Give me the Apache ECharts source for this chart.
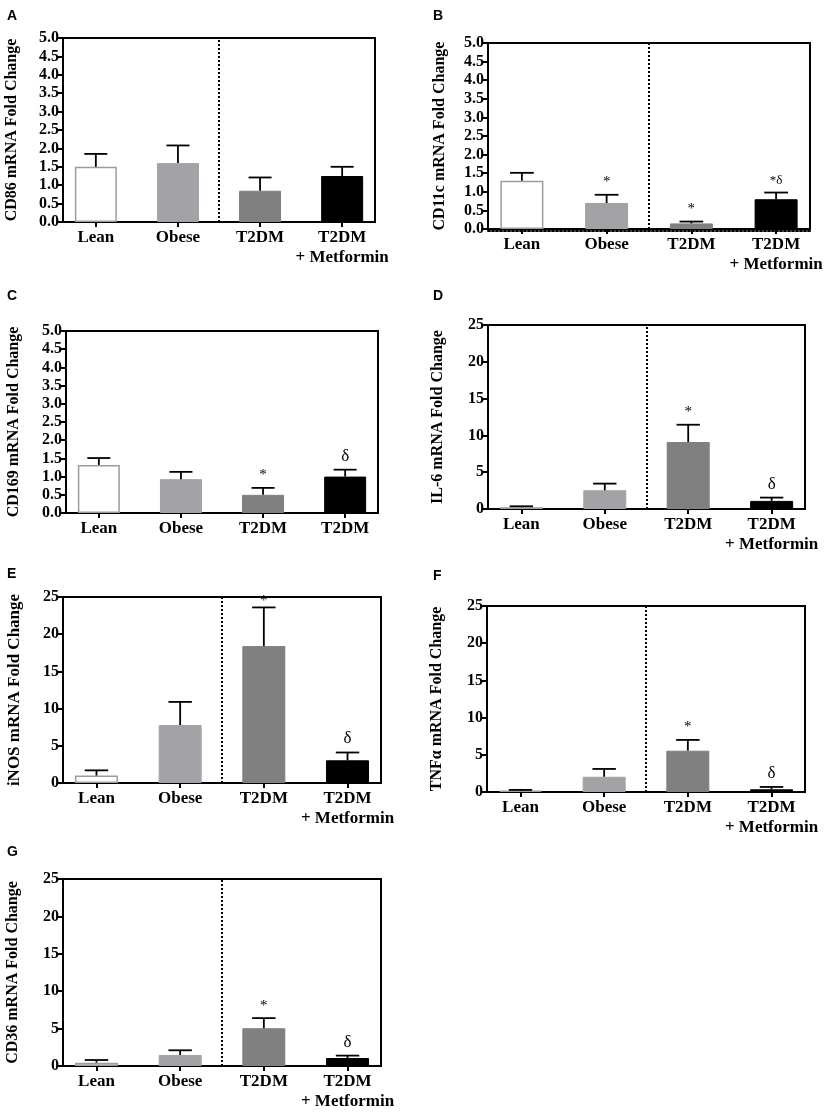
<!DOCTYPE html>
<html lang="en">
<head>
    <meta charset="UTF-8">
    <title>mRNA Fold Change</title>
    <script src="https://cdn.jsdelivr.net/npm/echarts@6.0.0/dist/echarts.min.js"></script>
    <style>
        html, body { margin: 0; padding: 0; background: #fff; }
        #chart { width: 835px; height: 1117px; }
    </style>
</head>
<body>
    <div id="chart"></div>
    <script>
        // groups on the x axis
        const groups = ['Lean', 'Obese', 'T2DM', 'T2DM\n+ Metformin'];
        const groupsC = ['Lean', 'Obese', 'T2DM', 'T2DM'];

        // mean fold change, upper error (SEM), significance marks
        const cd86Mean = [1.50, 1.60, 0.85, 1.25];
        const cd86Err = [0.35, 0.48, 0.36, 0.25];
        const cd86Mark = ['', '', '', ''];

        const cd11cMean = [1.30, 0.70, 0.15, 0.80];
        const cd11cErr = [0.21, 0.22, 0.05, 0.18];
        const cd11cMark = ['', '*', '*', '*δ'];

        const cd169Mean = [1.32, 0.93, 0.50, 1.00];
        const cd169Err = [0.19, 0.20, 0.19, 0.19];
        const cd169Mark = ['', '', '*', 'δ'];

        const il6Mean = [0.25, 2.55, 9.10, 1.10];
        const il6Err = [0.12, 0.90, 2.35, 0.45];
        const il6Mark = ['', '', '*', 'δ'];

        const inosMean = [1.00, 7.80, 18.40, 3.05];
        const inosErr = [0.70, 3.10, 5.20, 1.05];
        const inosMark = ['', '', '*', 'δ'];

        const tnfMean = [0.18, 2.05, 5.55, 0.36];
        const tnfErr = [0.10, 1.05, 1.45, 0.32];
        const tnfMark = ['', '', '*', 'δ'];

        const cd36Mean = [0.45, 1.48, 5.05, 1.07];
        const cd36Err = [0.35, 0.62, 1.35, 0.32];
        const cd36Mark = ['', '', '*', 'δ'];

        const barColors = ['#ffffff', '#a3a3a7', '#808080', '#000000'];
        const barBorders = ['#9c9c9c', '#a3a3a7', '#808080', '#000000'];
        const serif = '"Liberation Serif", "Times New Roman", serif';

        // panel layout: plot rectangle in px
        const panels = [
            { letter: 'A', lx: 7, ly: 9, rect: [63, 38, 312, 184], name: 'CD86 mRNA Fold Change', nameSize: 16, nameGap: 43,
              mean: cd86Mean, err: cd86Err, mark: cd86Mark, max: 5, step: 0.5, cats: groups, divider: true },
            { letter: 'B', lx: 433, ly: 9, rect: [488, 43, 322, 186], name: 'CD11c mRNA Fold Change', nameSize: 16, nameGap: 40,
              mean: cd11cMean, err: cd11cErr, mark: cd11cMark, max: 5, step: 0.5, cats: groups, divider: true, dottedBase: true },
            { letter: 'C', lx: 7, ly: 289, rect: [66, 331, 312, 182], name: 'CD169 mRNA Fold Change', nameSize: 16, nameGap: 44,
              mean: cd169Mean, err: cd169Err, mark: cd169Mark, max: 5, step: 0.5, cats: groupsC, divider: false },
            { letter: 'D', lx: 433, ly: 289, rect: [488, 325, 317, 184], name: 'IL-6 mRNA Fold Change', nameSize: 16, nameGap: 42,
              mean: il6Mean, err: il6Err, mark: il6Mark, max: 25, step: 5, cats: groups, divider: true },
            { letter: 'E', lx: 7, ly: 567, rect: [63, 597, 318, 186], name: 'iNOS mRNA Fold Change', nameSize: 17, nameGap: 40,
              mean: inosMean, err: inosErr, mark: inosMark, max: 25, step: 5, cats: groups, divider: true },
            { letter: 'F', lx: 433, ly: 569, rect: [487, 606, 318, 186], name: 'TNFα mRNA Fold Change', nameSize: 16, nameGap: 42,
              mean: tnfMean, err: tnfErr, mark: tnfMark, max: 25, step: 5, cats: groups, divider: true },
            { letter: 'G', lx: 7, ly: 845, rect: [63, 879, 318, 187], name: 'CD36 mRNA Fold Change', nameSize: 16, nameGap: 42,
              mean: cd36Mean, err: cd36Err, mark: cd36Mark, max: 25, step: 5, cats: groups, divider: true }
        ];

        const PAD = 0.4;
        const chart = echarts.init(document.getElementById('chart'), null, { renderer: 'canvas' });

        const grid = [], xAxis = [], yAxis = [], series = [], graphic = [];

        panels.forEach((p, k) => {
            const [left, top, width, height] = p.rect;
            const spacing = width / (3 + 2 * PAD);

            grid.push({ left, top, width, height, show: true, borderColor: '#000', borderWidth: 2, backgroundColor: 'transparent' });

            xAxis.push({
                gridIndex: k, type: 'value', min: -PAD, max: 3 + PAD,
                splitLine: { show: false },
                axisLine: { show: true, onZero: false, lineStyle: { color: '#000', width: 2 } },
                axisTick: { show: true, customValues: [0, 1, 2, 3], length: 5, lineStyle: { color: '#000', width: 2 } },
                axisLabel: {
                    customValues: [0, 1, 2, 3], margin: 6,
                    formatter: v => p.cats[Math.round(v)],
                    fontFamily: serif, fontWeight: 'bold', fontSize: 17, color: '#000', lineHeight: 20
                }
            });
            if (p.dottedBase) {
                xAxis.push({
                    gridIndex: k, type: 'value', min: -PAD, max: 3 + PAD, position: 'bottom', offset: 2,
                    splitLine: { show: false }, axisTick: { show: false }, axisLabel: { show: false },
                    axisLine: { show: true, onZero: false, lineStyle: { color: '#000', width: 2, type: 'dotted' } }
                });
            }

            yAxis.push({
                gridIndex: k, type: 'value', min: 0, max: p.max, interval: p.step,
                name: p.name, nameLocation: 'middle', nameGap: p.nameGap,
                nameTextStyle: { fontFamily: serif, fontWeight: 'bold', fontSize: p.nameSize, color: '#000' },
                splitLine: { show: false },
                axisLine: { show: true, onZero: false, lineStyle: { color: '#000', width: 2 } },
                axisTick: { show: true, length: 5, lineStyle: { color: '#000', width: 2 } },
                axisLabel: {
                    margin: 4, fontFamily: serif, fontWeight: 'bold', fontSize: 16, color: '#000',
                    formatter: v => p.step < 1 ? v.toFixed(1) : String(v)
                }
            });

            const xIdx = xAxis.length - (p.dottedBase ? 2 : 1);

            series.push({
                type: 'bar', xAxisIndex: xIdx, yAxisIndex: k,
                barWidth: Math.round(spacing * 0.51),
                data: p.mean.map((m, i) => ({
                    value: [i, m],
                    itemStyle: { color: barColors[i], borderColor: barBorders[i], borderWidth: i === 0 ? 1.5 : 1 }
                })),
                markLine: p.divider ? {
                    silent: true, symbol: 'none', label: { show: false },
                    lineStyle: { color: '#000', width: 2, type: 'dotted' },
                    data: [{ xAxis: 1.5 }]
                } : undefined,
                z: 2
            });

            // upper error bars + significance marks
            series.push({
                type: 'custom', xAxisIndex: xIdx, yAxisIndex: k, z: 3,
                data: p.mean.map((m, i) => [i, m, m + p.err[i]]),
                renderItem: (params, api) => {
                    const i = api.value(0);
                    const base = api.coord([i, api.value(1)]);
                    const cap = api.coord([i, api.value(2)]);
                    const half = api.size([0.28, 0])[0] / 2;
                    const cs = params.coordSys;
                    const children = [
                        { type: 'line', shape: { x1: base[0], y1: base[1], x2: cap[0], y2: cap[1] },
                          style: { stroke: '#000', lineWidth: 1.8 } },
                        { type: 'line', shape: { x1: cap[0] - half, y1: cap[1], x2: cap[0] + half, y2: cap[1] },
                          style: { stroke: '#000', lineWidth: 1.8 } }
                    ];
                    const txt = p.mark[params.dataIndex];
                    if (txt) {
                        const ty = Math.max(cap[1] - 5, cs.y + 12);
                        const size = txt === 'δ' ? 17 : (txt.length > 1 ? 13 : 15);
                        children.push({
                            type: 'text',
                            style: {
                                x: cap[0], y: ty, text: txt, align: 'center', verticalAlign: 'bottom',
                                font: size + 'px ' + serif, fill: '#000'
                            }
                        });
                    }
                    return { type: 'group', children };
                }
            });

            graphic.push({
                type: 'text', left: p.lx, top: p.ly,
                style: { text: p.letter, font: 'bold 14px "Liberation Sans", Arial, sans-serif', fill: '#000' }
            });
        });

        chart.setOption({
            animation: false,
            grid, xAxis, yAxis, series, graphic
        });
    </script>
</body>
</html>
